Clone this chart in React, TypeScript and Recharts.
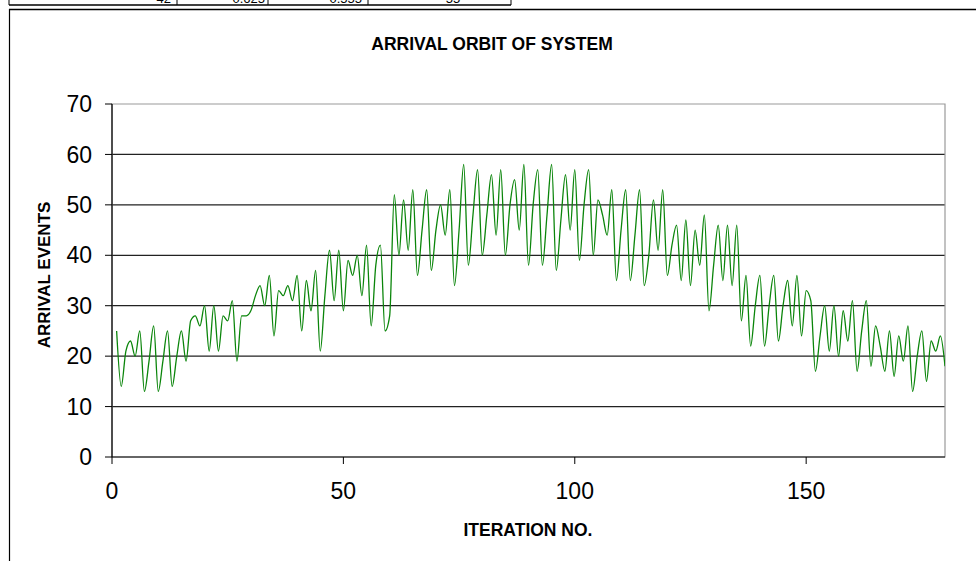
import React from "react";
import {
  LineChart,
  Line,
  XAxis,
  YAxis,
  CartesianGrid,
  ReferenceArea,
} from "recharts";

// arrivals recorded at each iteration, starting from iteration 1
const ARRIVALS = [
  25, 14, 21, 23, 20, 25, 13, 19, 26, 13,
  19, 25, 14, 20, 25, 19, 27, 28, 26, 30,
  21, 30, 21, 28, 27, 31, 19, 28, 28, 29,
  32, 34, 30, 36, 24, 33, 32, 34, 31, 36,
  25, 35, 29, 37, 21, 32, 41, 31, 41, 29,
  39, 36, 40, 32, 42, 26, 38, 42, 25, 28,
  52, 40, 51, 41, 53, 36, 45, 53, 37, 45,
  50, 44, 53, 34, 45, 58, 38, 48, 57, 40,
  48, 56, 44, 57, 40, 50, 55, 45, 58, 38,
  50, 57, 38, 48, 58, 37, 47, 56, 45, 57,
  39, 50, 57, 40, 51, 48, 44, 53, 35, 45,
  53, 35, 44, 53, 34, 40, 51, 41, 53, 36,
  42, 46, 35, 47, 34, 45, 38, 48, 29, 38,
  46, 35, 46, 34, 46, 27, 36, 22, 30, 36,
  22, 30, 36, 23, 30, 35, 26, 36, 24, 33,
  31, 17, 24, 30, 21, 30, 20, 29, 23, 31,
  17, 25, 31, 18, 26, 22, 17, 25, 16, 24,
  19, 26, 13, 20, 25, 15, 23, 21, 24, 18,
];

const X_TICKS = [0, 50, 100, 150];
const X_DOMAIN = [0, 180];
const Y_TICKS = [0, 10, 20, 30, 40, 50, 60, 70];

// spreadsheet row sitting above the chart object
const SHEET_CELLS = ["42", "0.625", "0.555", "55"];

const TITLE = "ARRIVAL ORBIT OF SYSTEM";
const X_TITLE = "ITERATION NO.";
const Y_TITLE = "ARRIVAL EVENTS";

const FONT = "Arial, 'Liberation Sans', sans-serif";

const data = ARRIVALS.map((v, i) => ({ iteration: i + 1, arrivals: v }));

export default function App() {
  return (
    <div
      style={{
        position: "fixed",
        left: 0,
        top: 0,
        width: 976,
        height: 561,
        overflow: "hidden",
        background: "#fff",
        fontFamily: FONT,
      }}
    >
      <svg
        width={976}
        height={561}
        style={{ position: "absolute", left: 0, top: 0 }}
      >
        {/* sheet row */}
        <line x1={9} y1={5} x2={511} y2={5} stroke="#000" strokeWidth={1.3} />
        {[9, 177, 268, 368, 511].map((x) => (
          <line key={x} x1={x} y1={0} x2={x} y2={5} stroke="#000" />
        ))}
        <g fontSize={13} fontFamily={FONT} fill="#000">
          <text x={171} y={3} textAnchor="end">{SHEET_CELLS[0]}</text>
          <text x={265} y={3} textAnchor="end">{SHEET_CELLS[1]}</text>
          <text x={362} y={3} textAnchor="end">{SHEET_CELLS[2]}</text>
          <text x={453} y={3} textAnchor="middle">{SHEET_CELLS[3]}</text>
        </g>

        {/* chart frame */}
        <line x1={9} y1={9.5} x2={976} y2={9.5} stroke="#000" strokeWidth={1.5} />
        <line x1={9.5} y1={9} x2={9.5} y2={561} stroke="#000" strokeWidth={1.2} />

        <text
          x={492}
          y={50}
          textAnchor="middle"
          fontSize={17.5}
          fontWeight="bold"
          fontFamily={FONT}
        >
          {TITLE}
        </text>
        <text
          x={528}
          y={536}
          textAnchor="middle"
          fontSize={17.5}
          fontWeight="bold"
          fontFamily={FONT}
        >
          {X_TITLE}
        </text>
        <text
          x={0}
          y={0}
          transform="translate(50 275) rotate(-90)"
          textAnchor="middle"
          fontSize={17}
          fontWeight="bold"
          fontFamily={FONT}
        >
          {Y_TITLE}
        </text>
      </svg>

      <div style={{ position: "absolute", left: 0, top: 0 }}>
        <LineChart
          width={976}
          height={561}
          data={data}
          margin={{ top: 104, right: 31, bottom: 64, left: 52 }}
        >
          <ReferenceArea
            x1={X_DOMAIN[0]}
            x2={X_DOMAIN[1]}
            y1={Y_TICKS[0]}
            y2={Y_TICKS[Y_TICKS.length - 1]}
            fill="none"
            stroke="#9a9a9a"
            strokeWidth={1.2}
          />
          <CartesianGrid
            vertical={false}
            horizontalValues={Y_TICKS.slice(1, -1)}
            stroke="#222"
            strokeWidth={1.2}
          />
          <XAxis
            dataKey="iteration"
            type="number"
            domain={X_DOMAIN}
            ticks={X_TICKS}
            height={40}
            tickSize={7}
            tickMargin={19}
            axisLine={{ stroke: "#000", strokeWidth: 1.2 }}
            tickLine={{ stroke: "#000" }}
            tick={{ fill: "#000", fontSize: 23, fontFamily: FONT }}
            allowDataOverflow
          />
          <YAxis
            type="number"
            domain={[Y_TICKS[0], Y_TICKS[Y_TICKS.length - 1]]}
            ticks={Y_TICKS}
            width={60}
            tickSize={7}
            tickMargin={13}
            axisLine={{ stroke: "#000", strokeWidth: 1.2 }}
            tickLine={{ stroke: "#000" }}
            tick={{ fill: "#000", fontSize: 23, fontFamily: FONT }}
          />
          <Line
            dataKey="arrivals"
            type="monotone"
            stroke="#0a850a"
            strokeWidth={1.3}
            dot={false}
            activeDot={false}
            isAnimationActive={false}
          />
        </LineChart>
      </div>
    </div>
  );
}
